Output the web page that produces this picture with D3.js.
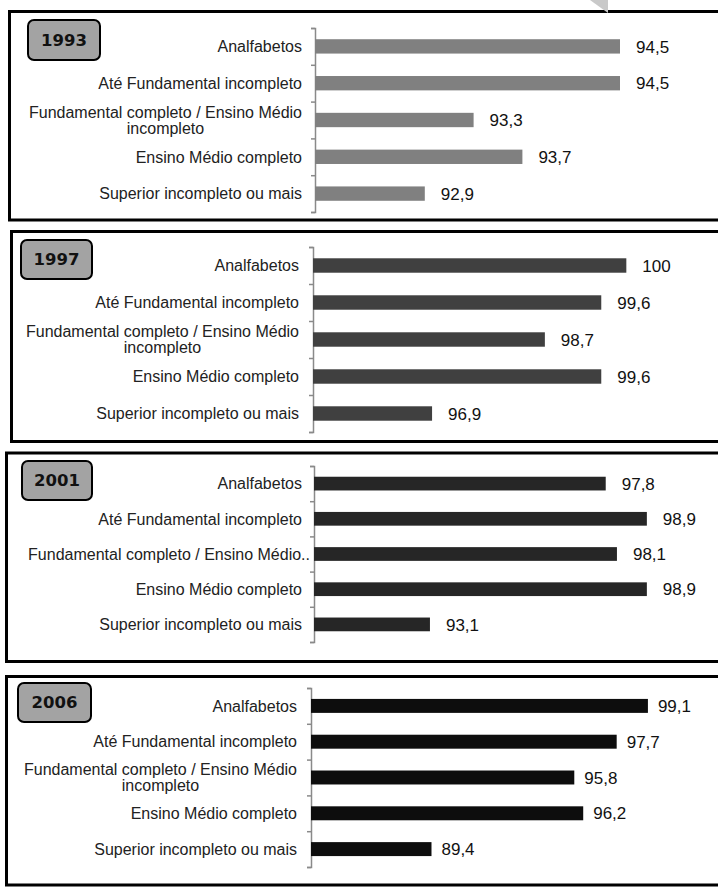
<!DOCTYPE html>
<html>
<head>
<meta charset="utf-8">
<script src="https://cdn.jsdelivr.net/npm/d3@7"></script>
<style>
  body { margin: 0; background: #fff; }
  svg { display: block; font-family: "Liberation Sans", Arial, sans-serif; }
</style>
</head>
<body>
<svg id="chart" width="718" height="888"></svg>
<script>
// Categories (education level), shared by all four panels
const categories = [
    "Analfabetos",
    "Até Fundamental incompleto",
    "Fundamental completo / Ensino Médio incompleto",
    "Ensino Médio completo",
    "Superior incompleto ou mais"
];

// How each category label is broken into lines on the chart
const labelLines = [
    ["Analfabetos"],
    ["Até Fundamental incompleto"],
    ["Fundamental completo / Ensino Médio", "incompleto"],
    ["Ensino Médio completo"],
    ["Superior incompleto ou mais"]
];
// the 2001 panel shows the long label cut off on one line
const labelLines2001 = labelLines.map((l, i) => i === 2 ? ["Fundamental completo / Ensino Médio.."] : l);

const years = ["1993", "1997", "2001", "2006"];

// values per year, in category order
const values1993 = [94.5, 94.5, 93.3, 93.7, 92.9];
const values1997 = [100, 99.6, 98.7, 99.6, 96.9];
const values2001 = [97.8, 98.9, 98.1, 98.9, 93.1];
const values2006 = [99.1, 97.7, 95.8, 96.2, 89.4];

// axis minimum / maximum of every panel's value axis
const axisMin = [92, 95, 90, 84];
const axisMax = [95, 101, 100, 100];

// layout of each panel (frame, year badge, plot area)
const panels = [
    { values: values1993, lines: labelLines, color: "#808080",
      frame: { x: 9.5, y: 11.5, bottom: 220 }, badge: { x: 28, y: 20, w: 72, h: 40 },
      plot: { x0: 315, x1: 681, y0: 28, y1: 212 }, labelX: 302, gap: 16 },
    { values: values1997, lines: labelLines, color: "#404040",
      frame: { x: 11.5, y: 231.5, bottom: 441.5 }, badge: { x: 21, y: 240, w: 71, h: 39 },
      plot: { x0: 313, x1: 689, y0: 247, y1: 432 }, labelX: 299, gap: 16 },
    { values: values2001, lines: labelLines2001, color: "#262626",
      frame: { x: 6.5, y: 453, bottom: 661.5 }, badge: { x: 22, y: 461, w: 70, h: 39 },
      plot: { x0: 314, x1: 688, y0: 466, y1: 642 }, labelX: 302, gap: 16 },
    { values: values2006, lines: labelLines, color: "#0d0d0d",
      frame: { x: 6.5, y: 676.5, bottom: 885 }, badge: { x: 18, y: 683, w: 73, h: 39 },
      plot: { x0: 311, x1: 668, y0: 688, y1: 867 }, labelX: 297, gap: 10 }
];

const fmt = v => Number.isInteger(v) ? String(v) : v.toFixed(1).replace(".", ",");

const svg = d3.select("#chart");

panels.forEach((p, pi) => {
    const g = svg.append("g").attr("class", "panel-" + years[pi]);

    // frame (runs off the right edge of the page)
    g.append("path")
        .attr("d", `M760,${p.frame.y}H${p.frame.x}V${p.frame.bottom}H760`)
        .attr("fill", "none")
        .attr("stroke", "#000")
        .attr("stroke-width", 3);

    // year badge
    g.append("rect")
        .attr("x", p.badge.x).attr("y", p.badge.y)
        .attr("width", p.badge.w).attr("height", p.badge.h)
        .attr("rx", 6)
        .attr("fill", "#a3a3a3")
        .attr("stroke", "#000")
        .attr("stroke-width", 2);
    g.append("text")
        .attr("x", p.badge.x + p.badge.w / 2)
        .attr("y", p.badge.y + p.badge.h / 2)
        .attr("dy", "0.36em")
        .attr("text-anchor", "middle")
        .attr("font-family", "DejaVu Sans, sans-serif")
        .attr("font-size", 16.5)
        .attr("font-weight", "bold")
        .attr("fill", "#111")
        .text(years[pi]);

    const x = d3.scaleLinear()
        .domain([axisMin[pi], axisMax[pi]])
        .range([p.plot.x0, p.plot.x1]);

    const y = d3.scaleBand()
        .domain(categories)
        .range([p.plot.y0, p.plot.y1])
        .paddingInner(0.61)
        .paddingOuter(0.305);

    // category axis: ticks between categories, like a bracket
    const yTicks = d3.scaleLinear().domain([0, categories.length]).range([p.plot.y0, p.plot.y1]);
    const axis = g.append("g")
        .attr("transform", `translate(${p.plot.x0},0)`)
        .call(d3.axisLeft(yTicks).ticks(categories.length).tickSize(4).tickFormat(""));
    axis.selectAll("path, line").attr("stroke", "#8a8a8a").attr("stroke-width", 1.5);

    // bars
    g.selectAll("rect.bar")
        .data(p.values)
        .join("rect")
        .attr("class", "bar")
        .attr("x", x(axisMin[pi]))
        .attr("y", (d, i) => y(categories[i]))
        .attr("width", d => x(d) - x(axisMin[pi]))
        .attr("height", y.bandwidth())
        .attr("fill", p.color);

    // value labels
    g.selectAll("text.val")
        .data(p.values)
        .join("text")
        .attr("class", "val")
        .attr("x", d => x(d) + p.gap)
        .attr("y", (d, i) => y(categories[i]) + y.bandwidth() / 2)
        .attr("dy", "0.36em")
        .attr("font-size", 17)
        .attr("fill", "#111")
        .text(fmt);

    // category labels, multi-line ones centred inside a right-aligned block
    p.lines.forEach((lines, i) => {
        const cy = y(categories[i]) + y.bandwidth() / 2;
        // a label cut off with ".." runs right up to the axis
        const right = lines[0].endsWith("..") ? p.plot.x0 - 4 : p.labelX;
        const t = g.append("text")
            .attr("font-size", 16)
            .attr("fill", "#222")
            .attr("text-anchor", "middle");
        lines.forEach((ln, j) => {
            t.append("tspan")
                .attr("y", cy + (j - (lines.length - 1) / 2) * 16)
                .attr("dy", "0.36em")
                .text(ln);
        });
        const widest = d3.max(t.selectAll("tspan").nodes(), n => n.getComputedTextLength());
        t.selectAll("tspan").attr("x", right - widest / 2);
    });
});

// grey page-curl corner at the top
svg.append("path")
    .attr("d", "M590,0H608V13Z")
    .attr("fill", "#c9c9c9");
</script>
</body>
</html>
